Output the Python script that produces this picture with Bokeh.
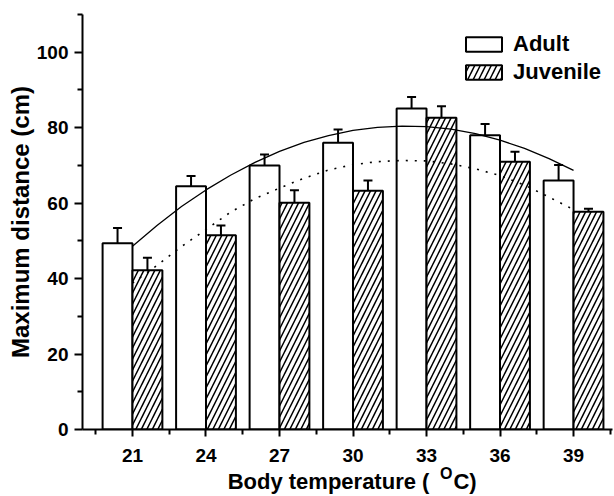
from bokeh.plotting import figure
from bokeh.models import (ColumnDataSource, Range1d, FixedTicker, Whisker, TeeHead,
                          Legend, LegendItem, LinearAxis)
from bokeh.embed import file_html
from bokeh.resources import INLINE

# ---- data ----
temps = [21, 24, 27, 30, 33, 36, 39]
adult = [49.4, 64.5, 70.0, 76.0, 85.1, 78.0, 66.0]
adult_err = [4.0, 2.7, 2.9, 3.5, 3.0, 3.0, 4.1]
juvenile = [42.2, 51.5, 60.1, 63.3, 82.6, 71.0, 57.7]
juvenile_err = [3.3, 2.6, 3.3, 2.7, 3.1, 2.6, 0.8]

# fitted curves, points
fit_t = [21, 22, 23, 24, 25, 26, 27, 28, 29, 30, 31, 32, 33, 34, 35, 36, 37, 38, 39]
adult_fit = [48.6, 54.1, 59.1, 63.5, 67.4, 70.8, 73.7, 76.1, 77.9, 79.3, 80.1, 80.4,
             80.3, 79.6, 78.4, 76.7, 74.5, 71.8, 68.7]
juvenile_fit = [38.8, 43.5, 48.5, 53.0, 57.6, 61.2, 64.0, 66.6, 68.8, 70.2, 71.0, 71.3,
                71.2, 70.4, 69.1, 67.3, 64.8, 61.6, 58.3]

x_ticks = temps
x_minor_ticks = [19.5, 22.5, 25.5, 28.5, 31.5, 34.5, 37.5, 40.5]
y_ticks = [0, 20, 40, 60, 80, 100]
y_minor_ticks = [10, 30, 50, 70, 90, 110]

# x-axis title pieces ("O" is a raised degree mark)
xtitle_main = "Body temperature ("
xtitle_sup = "O"
xtitle_end = "C)"

FONT = "Liberation Sans"
bar_w = 1.22

p = figure(width=614, height=496, output_backend="svg", toolbar_location=None,
           x_range=Range1d(18.96, 40.59), y_range=Range1d(0, 110),
           min_border_left=82, min_border_right=2, min_border_top=14, min_border_bottom=67)
p.outline_line_color = None
p.xgrid.visible = False
p.ygrid.visible = False
p.background_fill_color = "white"

src_a = ColumnDataSource(dict(
    x=[t - bar_w / 2 for t in temps], top=adult,
    upper=[v + e for v, e in zip(adult, adult_err)],
    lower=[v - e for v, e in zip(adult, adult_err)]))
src_j = ColumnDataSource(dict(
    x=[t + bar_w / 2 for t in temps], top=juvenile,
    upper=[v + e for v, e in zip(juvenile, juvenile_err)],
    lower=[v - e for v, e in zip(juvenile, juvenile_err)]))

ra = p.vbar(x="x", top="top", bottom=0, width=bar_w, source=src_a,
            fill_color="white", line_color="black", line_width=2)
rj = p.vbar(x="x", top="top", bottom=0, width=bar_w, source=src_j,
            fill_color="white", line_color="black", line_width=2,
            hatch_pattern="/", hatch_color="black", hatch_scale=11, hatch_weight=1.5)

for s in (src_a, src_j):
    w = Whisker(base="x", upper="upper", lower="lower", source=s,
                line_color="black", line_width=2,
                upper_head=TeeHead(size=9, line_width=2, line_color="black"),
                lower_head=TeeHead(size=9, line_width=2, line_color="black"))
    p.add_layout(w)

p.line(fit_t, adult_fit, line_color="black", line_width=1.3)
p.line(fit_t, juvenile_fit, line_color="black", line_width=1.6, line_dash="2 7")

# axes
for ax in (p.xaxis[0], p.yaxis[0]):
    ax.axis_line_width = 2
    ax.major_tick_line_width = 2
    ax.minor_tick_line_width = 2
    ax.major_tick_in = 0
    ax.minor_tick_in = 0
    ax.minor_tick_out = 5
    ax.major_label_text_font = FONT
    ax.major_label_text_font_style = "bold"
    ax.major_label_text_font_size = "19px"
    ax.major_label_text_color = "black"
    ax.axis_line_color = "black"
    ax.major_tick_line_color = "black"
    ax.minor_tick_line_color = "black"

p.xaxis.ticker = FixedTicker(ticks=x_ticks, minor_ticks=x_minor_ticks)
p.yaxis.ticker = FixedTicker(ticks=y_ticks, minor_ticks=y_minor_ticks)
p.xaxis.major_tick_out = 7
p.yaxis.major_tick_out = 8
p.xaxis.major_label_standoff = 12
p.yaxis.major_label_standoff = 6

p.yaxis.axis_label = "Maximum distance (cm)"
p.yaxis.axis_label_text_font = FONT
p.yaxis.axis_label_text_font_style = "bold"
p.yaxis.axis_label_text_font_size = "24px"
p.yaxis.axis_label_text_color = "black"
p.yaxis.axis_label_standoff = 0


def title_axis(positions, texts, size, standoff):
    ax = LinearAxis(ticker=FixedTicker(ticks=positions, minor_ticks=[]),
                    major_label_overrides=dict(zip(positions, texts)),
                    axis_line_color=None, major_tick_line_color=None,
                    minor_tick_line_color=None, major_tick_out=0, major_tick_in=0,
                    minor_tick_out=0, minor_tick_in=0,
                    major_label_standoff=standoff,
                    major_label_text_font=FONT, major_label_text_font_style="bold",
                    major_label_text_font_size=size, major_label_text_color="black")
    p.add_layout(ax, "below")
    return ax


# tick positions (in x units) where the title pieces are centred
title_axis([33.80], [xtitle_sup], "16px", 0)
title_axis([29.0, 34.57], [xtitle_main, xtitle_end], "22px", -16)

legend = Legend(items=[LegendItem(label="Adult", renderers=[ra]),
                       LegendItem(label="Juvenile", renderers=[rj])],
                location=(379, 344), padding=0, spacing=2, margin=0,
                glyph_width=45, glyph_height=18, label_standoff=7,
                border_line_color=None, background_fill_alpha=0,
                label_text_font=FONT, label_text_font_style="bold",
                label_text_font_size="22px", label_text_color="black")
p.add_layout(legend)

open("out.html", "w").write(file_html(p, INLINE))
